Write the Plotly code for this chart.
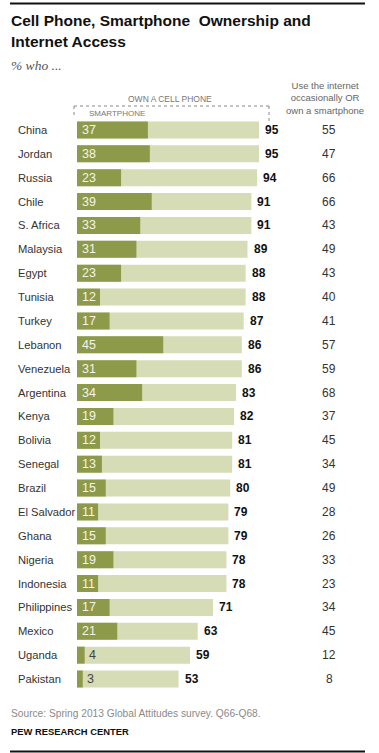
import plotly.graph_objects as go

countries = ["China", "Jordan", "Russia", "Chile", "S. Africa", "Malaysia", "Egypt", "Tunisia",
             "Turkey", "Lebanon", "Venezuela", "Argentina", "Kenya", "Bolivia", "Senegal", "Brazil",
             "El Salvador", "Ghana", "Nigeria", "Indonesia", "Philippines", "Mexico", "Uganda", "Pakistan"]
smartphone = [37, 38, 23, 39, 33, 31, 23, 12, 17, 45, 31, 34, 19, 12, 13, 15, 11, 15, 19, 11, 17, 21, 4, 3]
cell_phone = [95, 95, 94, 91, 91, 89, 88, 88, 87, 86, 86, 83, 82, 81, 81, 80, 79, 79, 78, 78, 71, 63, 59, 53]
internet = [55, 47, 66, 66, 43, 49, 43, 40, 41, 57, 59, 68, 37, 45, 34, 49, 28, 26, 33, 23, 34, 45, 12, 8]

W, H = 379, 753
X0, SX = 77.0, 1.916      # pixel of value 0, pixels per unit
Y0, SY = 130.0, 23.87     # pixel of first row centre, pixels per row
DARK = "#8c9a4a"
LIGHT = "#d6dcb6"
FONT = "Liberation Sans, Arial, sans-serif"

yidx = list(range(len(countries)))

fig = go.Figure()
fig.add_trace(go.Bar(x=cell_phone, y=yidx, orientation="h", marker=dict(color=LIGHT, line=dict(width=0)),
                     width=17 / SY, hoverinfo="skip"))
fig.add_trace(go.Bar(x=smartphone, y=yidx, orientation="h", marker=dict(color=DARK, line=dict(width=0)),
                     width=17 / SY, hoverinfo="skip"))

ann = []
for i, (c, s, p, n) in enumerate(zip(countries, smartphone, cell_phone, internet)):
    ann.append(dict(x=16 / W, xref="paper", y=i, yref="y", text=c, showarrow=False, xanchor="left",
                    font=dict(family=FONT, size=11.2, color="#333333")))
    if s >= 10:
        ann.append(dict(x=0, y=i, text=str(s), showarrow=False, xanchor="left", xshift=3,
                        font=dict(family=FONT, size=12.5, color="#f4f4ea")))
    else:
        ann.append(dict(x=s, y=i, text=str(s), showarrow=False, xanchor="left", xshift=2,
                        font=dict(family=FONT, size=12.5, color="#444444")))
    ann.append(dict(x=p, y=i, text="<b>%d</b>" % p, showarrow=False, xanchor="left", xshift=4,
                    font=dict(family=FONT, size=12, color="#111111")))
    ann.append(dict(x=329 / W, xref="paper", y=i, yref="y", text=str(n), showarrow=False, xanchor="center",
                    font=dict(family=FONT, size=12, color="#333333")))

def ptxt(x, y, text, size, color, anchor="left", family=FONT):
    ann.append(dict(x=x / W, y=1 - y / H, xref="paper", yref="paper", text=text, showarrow=False,
                    xanchor=anchor, yanchor="middle", font=dict(family=family, size=size, color=color)))

ptxt(9, 21, "<b>Cell Phone, Smartphone  Ownership and</b>", 15.5, "#111111")
ptxt(9, 42, "<b>Internet Access</b>", 15.5, "#111111")
ptxt(9, 65, "<i>% who ...</i>", 13.5, "#555555", family="Liberation Serif, Georgia, serif")
ptxt(170, 99, "OWN A CELL PHONE", 8.5, "#777777", anchor="center")
ptxt(87, 114, "SMARTPHONE", 8, "#777777")
ptxt(325, 98, "Use the internet<br>occasionally OR<br>own a smartphone", 9.5, "#666666", anchor="center")
ptxt(9, 713, "Source: Spring 2013 Global Attitudes survey. Q66-Q68.", 10.2, "#8a8a8a")
ptxt(9, 731, "<b>PEW RESEARCH CENTER</b>", 9.4, "#111111")

def pline(x0, y0, x1, y1, color, width, dash="solid"):
    return dict(type="line", xref="paper", yref="paper", x0=x0 / W, x1=x1 / W, y0=1 - y0 / H, y1=1 - y1 / H,
                line=dict(color=color, width=width, dash=dash), layer="above")

shapes = [
    pline(10, 3.5, 365, 3.5, "#111111", 2),
    pline(10, 751.5, 365, 751.5, "#111111", 2),
    pline(74, 106, 269, 106, "#888888", 1, "dot"),
    pline(74, 106, 74, 115, "#888888", 1, "dot"),
    pline(269, 106, 269, 122, "#888888", 1, "dot"),
]

fig.update_layout(
    width=W, height=H, margin=dict(l=0, r=0, t=0, b=0, autoexpand=False),
    paper_bgcolor="white", plot_bgcolor="white",
    barmode="overlay", showlegend=False,
    xaxis=dict(range=[-X0 / SX, (W - X0) / SX], visible=False, fixedrange=True),
    yaxis=dict(range=[(H - Y0) / SY, -Y0 / SY], visible=False, fixedrange=True),
    annotations=ann, shapes=shapes,
)
fig.write_html("out.html", config={"displayModeBar": False},
               post_script="document.body.style.margin='0';document.body.style.overflow='hidden';"
                           "window.scrollTo(0,0);")
